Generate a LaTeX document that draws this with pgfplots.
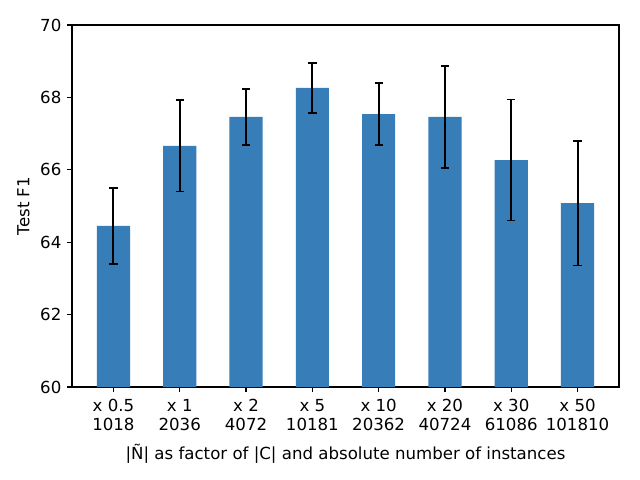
\documentclass[border=0pt]{standalone}
\usepackage{pgfplots}
\pgfplotsset{compat=1.18}
\usepackage{fontspec}
\setmainfont{DejaVu Sans}
\definecolor{barblue}{HTML}{377EB8}
\begin{document}
\fontsize{12pt}{14.4pt}\selectfont
\begin{tikzpicture}
\path (-0.72in,-0.93in) rectangle (5.68in,3.87in);
\begin{axis}[
  at={(0,0)}, anchor=south west,
  scale only axis, width=5.47in, height=3.62in,
  xmin=-0.625, xmax=7.625, ymin=60, ymax=70,
  ytick={60,62,64,66,68,70},
  xtick={0,1,2,3,4,5,6,7},
  xticklabels={{x 0.5\\1018},{x 1\\2036},{x 2\\4072},{x 5\\10181},{x 10\\20362},{x 20\\40724},{x 30\\61086},{x 50\\101810}},
  xticklabel style={align=center, font=\fontsize{12pt}{13.8pt}\selectfont, yshift=-1pt},
  yticklabel style={font=\fontsize{12pt}{14pt}\selectfont},
  /pgf/number format/assume math mode=true,
  tick align=outside, tick pos=left,
  major tick length=3.5pt,
  every tick/.style={black, line width=0.8pt},
  axis line style={line width=0.8pt},
  xlabel={|Ñ| as factor of |C| and absolute number of instances},
  ylabel={Test F1},
  label style={font=\fontsize{12pt}{14pt}\selectfont},
  xlabel style={yshift=-1.8pt},
  ylabel style={yshift=-0.5pt},
  ybar, bar width=0.5, bar shift=0pt,
]
\addplot[fill=barblue, draw=none,
  error bars/.cd, y dir=both, y explicit,
  error bar style={line width=1.5pt, black},
  error mark options={line width=1.2pt, black, mark size=3pt, rotate=90}]
coordinates {
(0,64.45) +- (0,1.05)
(1,66.66) +- (0,1.26)
(2,67.46) +- (0,0.77)
(3,68.26) +- (0,0.69)
(4,67.54) +- (0,0.85)
(5,67.46) +- (0,1.41)
(6,66.27) +- (0,1.67)
(7,65.08) +- (0,1.72)
};
\end{axis}
\end{tikzpicture}
\end{document}
